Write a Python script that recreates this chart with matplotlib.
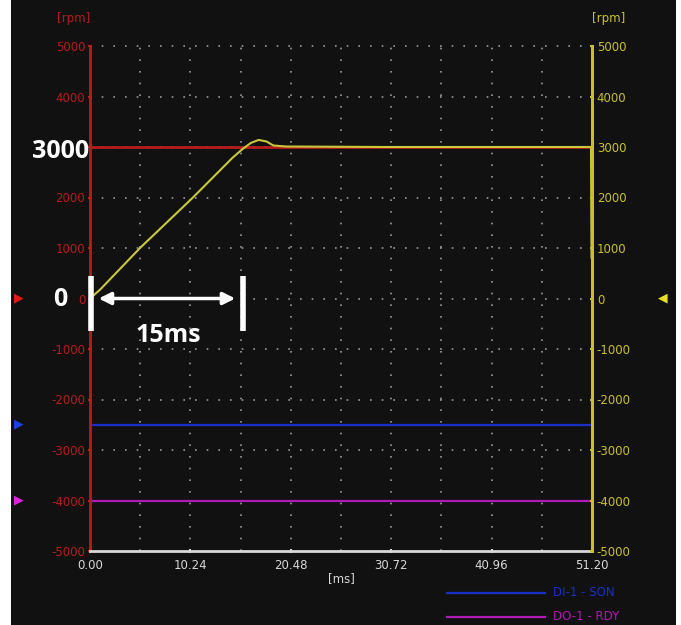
import matplotlib.pyplot as plt
from matplotlib.patches import Rectangle

# speed trace [ms] / [rpm]
time_ms = [0.0, 1.0, 5.1, 10.5, 14.5, 15.5, 16.4, 17.2, 18.0, 18.7, 20.0, 30.0, 40.0, 51.1, 51.15, 51.2]
speed_rpm = [0, 170, 1000, 2000, 2780, 2950, 3080, 3140, 3110, 3030, 3010, 3000, 3000, 3000, 800, 800]

ref_speed = 3000            # red reference line
son_level = -2500           # DI-1 - SON
rdy_level = -4000           # DO-1 - RDY

x_ticks = [0.00, 10.24, 20.48, 30.72, 40.96, 51.20]
y_ticks = [-5000, -4000, -3000, -2000, -1000, 0, 1000, 2000, 3000, 4000, 5000]
legend_labels = ["DI-1 - SON", "DO-1 - RDY"]

bg = "#111111"
red = "#b81c1c"
yel = "#c9c12a"
grid_c = "#9a9a9a"

W, H = 681, 625
fig = plt.figure(figsize=(W / 100, H / 100), dpi=100, facecolor="white")
fig.patches.append(Rectangle((11 / W, 0), (676 - 11) / W, 1, transform=fig.transFigure,
                             facecolor=bg, edgecolor="none", zorder=-10))

# plot area: x 90..592, y 46..551 (pixels from top)
ax = fig.add_axes([90 / W, 1 - 551 / H, (592 - 90) / W, (551 - 46) / H])
ax.set_facecolor(bg)
ax.set_xlim(0, 51.2)
ax.set_ylim(-5000, 5000)

# dotted grid
for gx in [5.12 * i for i in range(1, 10)]:
    ax.axvline(gx, color=grid_c, lw=1.2, ls=(0, (1, 6)), zorder=1)
for gy in y_ticks[1:]:
    ax.axhline(gy, color=grid_c, lw=1.2, ls=(0, (1, 6)), zorder=1, clip_on=False)

ax.axhline(ref_speed, color=red, lw=2, zorder=2)
ax.axhline(son_level, color="#1a2fc8", lw=1.6, zorder=2)
ax.axhline(rdy_level, color="#b01ab4", lw=1.6, zorder=2)
ax.plot(time_ms, speed_rpm, color="#c8c83a", lw=1.5, zorder=3)

ax.spines["top"].set_visible(False)
ax.spines["left"].set_color(red)
ax.spines["left"].set_linewidth(2)
ax.spines["right"].set_color(yel)
ax.spines["right"].set_linewidth(2)
ax.spines["bottom"].set_color("#d8d8d8")
ax.spines["bottom"].set_linewidth(2)

ax.set_xticks(x_ticks)
ax.set_xticklabels([f"{v:.2f}" for v in x_ticks])
ax.set_yticks(y_ticks)
# the left "3000" label is covered by the white annotation
ax.set_yticklabels(["" if v == ref_speed else str(v) for v in y_ticks])
ax.tick_params(axis="x", colors="#d8d8d8", labelsize=8.5, length=3, width=1.5, direction="inout", pad=4)
ax.tick_params(axis="y", colors=red, labelsize=8.5, length=3, width=1.5, direction="inout", pad=2)

ax2 = ax.twinx()
ax2.set_ylim(-5000, 5000)
ax2.set_yticks(y_ticks)
ax2.set_yticklabels([str(v) for v in y_ticks])
ax2.tick_params(axis="y", colors=yel, labelsize=8.5, length=3, width=1.5, direction="inout", pad=2)
for s in ["top", "left", "bottom"]:
    ax2.spines[s].set_visible(False)
ax2.spines["right"].set_color(yel)
ax2.spines["right"].set_linewidth(2)

ax.text(0, 1.055, "[rpm]", transform=ax.transAxes, color=red, fontsize=8.5, ha="right", va="center")
ax.text(1.0, 1.055, "[rpm]", transform=ax.transAxes, color=yel, fontsize=8.5, ha="left", va="center")
ax.text(0.5, -0.055, "[ms]", transform=ax.transAxes, color="#d8d8d8", fontsize=8.5, ha="center", va="center")

# side markers
fig.text(14 / W, 1 - 298 / H, "\u25B6", color="#e01818", fontsize=9, ha="left", va="center")
fig.text(14 / W, 1 - 424 / H, "\u25B6", color="#1a40e0", fontsize=9, ha="left", va="center")
fig.text(14 / W, 1 - 500 / H, "\u25B6", color="#e020e0", fontsize=9, ha="left", va="center")
fig.text(668 / W, 1 - 298 / H, "\u25C0", color="#e8e020", fontsize=9, ha="right", va="center")

# annotations
bold = dict(color="white", fontsize=18, fontweight="bold", family=["Open Sans", "DejaVu Sans"])
fig.text(89 / W, 1 - 151 / H, "3000", ha="right", va="center", **bold)
fig.text(67 / W, 1 - 300 / H, "0", ha="right", va="center", **bold)
fig.text(168 / W, 1 - 336 / H, "15ms", ha="center", va="center", **bold)
for bx in [0.1, 15.6]:
    ax.plot([bx, bx], [-650, 450], color="white", lw=4, solid_capstyle="butt", zorder=5, clip_on=False)
ax.annotate("", xy=(0.6, 0), xytext=(15.1, 0),
            arrowprops=dict(arrowstyle="<|-|>", color="white", lw=2.5, mutation_scale=18), zorder=5)

# legend
leg_y = [1 - 593 / H, 1 - 617 / H]
leg_cols = ["#1a2fc8", "#b01ab4"]
for yy, col, lab in zip(leg_y, leg_cols, legend_labels):
    fig.add_artist(plt.Line2D([447 / W, 545 / W], [yy, yy], color=col, lw=1.6, transform=fig.transFigure))
    fig.text(553 / W, yy, lab, color=col, fontsize=8.5, ha="left", va="center")

fig.savefig("out.png", dpi=100, facecolor="white")
